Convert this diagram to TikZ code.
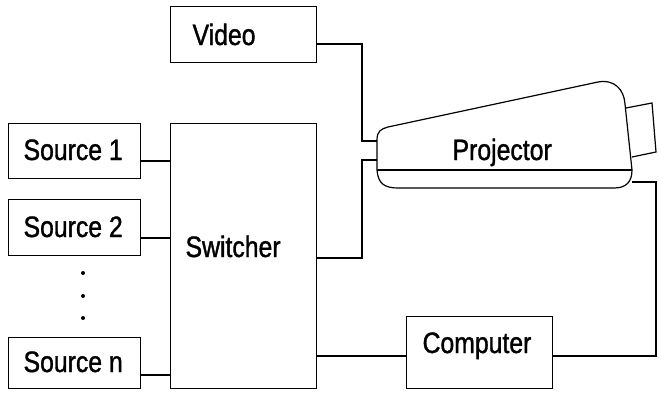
\documentclass[tikz,border=0pt]{standalone}
\usepackage{fontspec}
\setmainfont[FakeStretch=0.84,FakeBold=1.2]{Liberation Sans}
\usetikzlibrary{calc}
\begin{document}
\begin{tikzpicture}[x=1pt,y=-1pt,
  line width=1.2pt,
  box/.style={draw, rectangle, inner sep=0pt, anchor=north west},
  lbl/.style={inner sep=0pt, anchor=base west, font=\fontsize{29.5}{30}\selectfont},
  wire/.style={draw, line width=1.2pt},
  dot/.style={circle, fill, inner sep=0pt, minimum size=4pt}]
\useasboundingbox (0,0) rectangle (659,394);

% boxes
\node[box, minimum width=146pt, minimum height=56pt] (video) at (170,6) {};
\node[box, minimum width=132pt, minimum height=55pt] (src1) at (8,123) {};
\node[box, minimum width=132pt, minimum height=56pt] (src2) at (8,199) {};
\node[box, minimum width=132pt, minimum height=51pt] (srcn) at (8,337) {};
\node[box, minimum width=146pt, minimum height=265pt] (switch) at (170,123) {};
\node[box, minimum width=146pt, minimum height=72pt] (comp) at (406,316) {};

% labels
\node[lbl] (videoT) at (192,45) {Video};
\node[lbl] (src1T) at (23,160) {Source 1};
\node[lbl] (src2T) at (23,237) {Source 2};
\node[lbl] (srcnT) at (23,372) {Source n};
\node[lbl] (switchT) at (185,257) {Switcher};
\node[lbl] (compT) at (422,353) {Computer};
\node[lbl] (projT) at (452,160) {Projector};

% ellipsis between the sources
\node[dot] (d1) at (83,273) {};
\node[dot] (d2) at (83,296) {};
\node[dot] (d3) at (83,318) {};

% projector body
\draw (377,170) -- (377,140) .. controls (377,131) and (381,129) .. (388,127)
  -- (598,82) .. controls (615,79) and (624,90) .. (625,104) -- (632,170);
\draw (377,170) -- (632,170);
\draw (377,170) .. controls (378,184) and (385,188) .. (398,188) -- (614,188)
  .. controls (626,188) and (632,182) .. (632,170);
% projector lens
\draw (626,108) -- (652,103) -- (656,152) -- (632,157);

% projector ports
\coordinate (pin1) at (377,141);
\coordinate (pin2) at (377,160);
\coordinate (pout) at (632,182);

% connectors
\coordinate (vbend) at (362,44);
\draw[wire] (video.east |- vbend) -- (vbend) |- (pin1);
\coordinate (sbend) at (362,258);
\draw[wire] (switch.east |- sbend) -- (sbend) |- (pin2);
\draw[wire] (src1.east |- 0,161) -- (switch.west |- 0,161);
\draw[wire] (src2.east |- 0,238) -- (switch.west |- 0,238);
\draw[wire] (srcn.east |- 0,375) -- (switch.west |- 0,375);
\draw[wire] (switch.east |- 0,356) -- (comp.west |- 0,356);
\coordinate (cbend) at (656,356);
\draw[wire] (comp.east |- cbend) -- (cbend) |- (pout);
\end{tikzpicture}
\end{document}
